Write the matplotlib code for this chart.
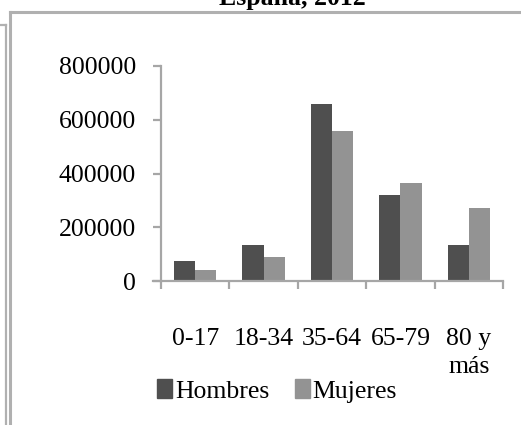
import matplotlib.pyplot as plt
import numpy as np
from matplotlib.lines import Line2D
from matplotlib.patches import Patch

# data
grupos = ['0-17', '18-34', '35-64', '65-79', '80 y\nmás']
hombres = [76000, 135000, 658000, 320000, 135000]
mujeres = [42000, 90000, 558000, 366000, 272000]
yticks = [0, 200000, 400000, 600000, 800000]

gris_eje = '#a6a6a6'
c_hombres = '#4f4f4f'
c_mujeres = '#939393'

plt.rcParams['font.family'] = 'Liberation Serif'
fig = plt.figure(figsize=(5.21, 4.25), dpi=100)
W, H = 521, 425

# frame lines around the chart (pixel coords converted to figure fraction)
def fline(x0, y0, x1, y1, lw):
    fig.add_artist(Line2D([x0 / W, x1 / W], [1 - y0 / H, 1 - y1 / H],
                          color='#b0b0b0', lw=lw, transform=fig.transFigure))

fline(10, 12, W, 12, 2.2)
fline(10, 12, 10, H, 2.2)
fline(0, 24.5, 5.5, 24.5, 1.6)
fline(5.5, 24.5, 5.5, H, 1.6)

# title is cut by the top edge in the original too
fig.text(292 / W, 1 - 5 / H, 'España, 2012', ha='center', va='baseline',
         fontsize=18.5, fontweight='bold')

ax = fig.add_axes([161 / W, 1 - 281 / H, (503 - 161) / W, (281 - 66) / H])
x = np.arange(len(grupos))
w = 0.31
ax.bar(x - w / 2, hombres, w, color=c_hombres, label='Hombres')
ax.bar(x + w / 2, mujeres, w, color=c_mujeres, label='Mujeres')

ax.set_xlim(-0.5, len(grupos) - 0.5)
ax.set_ylim(0, 800000)
ax.set_yticks(yticks)
ax.set_yticklabels([str(v) for v in yticks])
ax.set_xticks(x)
ax.set_xticklabels(grupos, linespacing=1.35)
ax.set_xticks(np.arange(len(grupos) + 1) - 0.5, minor=True)

for s in ['top', 'right']:
    ax.spines[s].set_visible(False)
for s in ['left', 'bottom']:
    ax.spines[s].set_color(gris_eje)
    ax.spines[s].set_linewidth(1.6)

ax.tick_params(axis='y', length=6, width=1.6, color=gris_eje, pad=12,
               labelsize=18.5)
ax.tick_params(axis='x', which='major', length=0, pad=34, labelsize=18.5)
ax.tick_params(axis='x', which='minor', length=6, width=1.6, color=gris_eje)
ax.spines['bottom'].set_bounds(-0.5 - 8 / 68.4, len(grupos) - 0.5)

handles = [Patch(color=c_hombres), Patch(color=c_mujeres)]
fig.legend(handles, ['Hombres', 'Mujeres'], loc='center',
           bbox_to_anchor=(277 / W, 1 - 391 / H), ncol=2, frameon=False,
           fontsize=18.5, handlelength=0.6, handleheight=0.75,
           handletextpad=0.1, columnspacing=1.0)

fig.savefig('out.png', dpi=100)
